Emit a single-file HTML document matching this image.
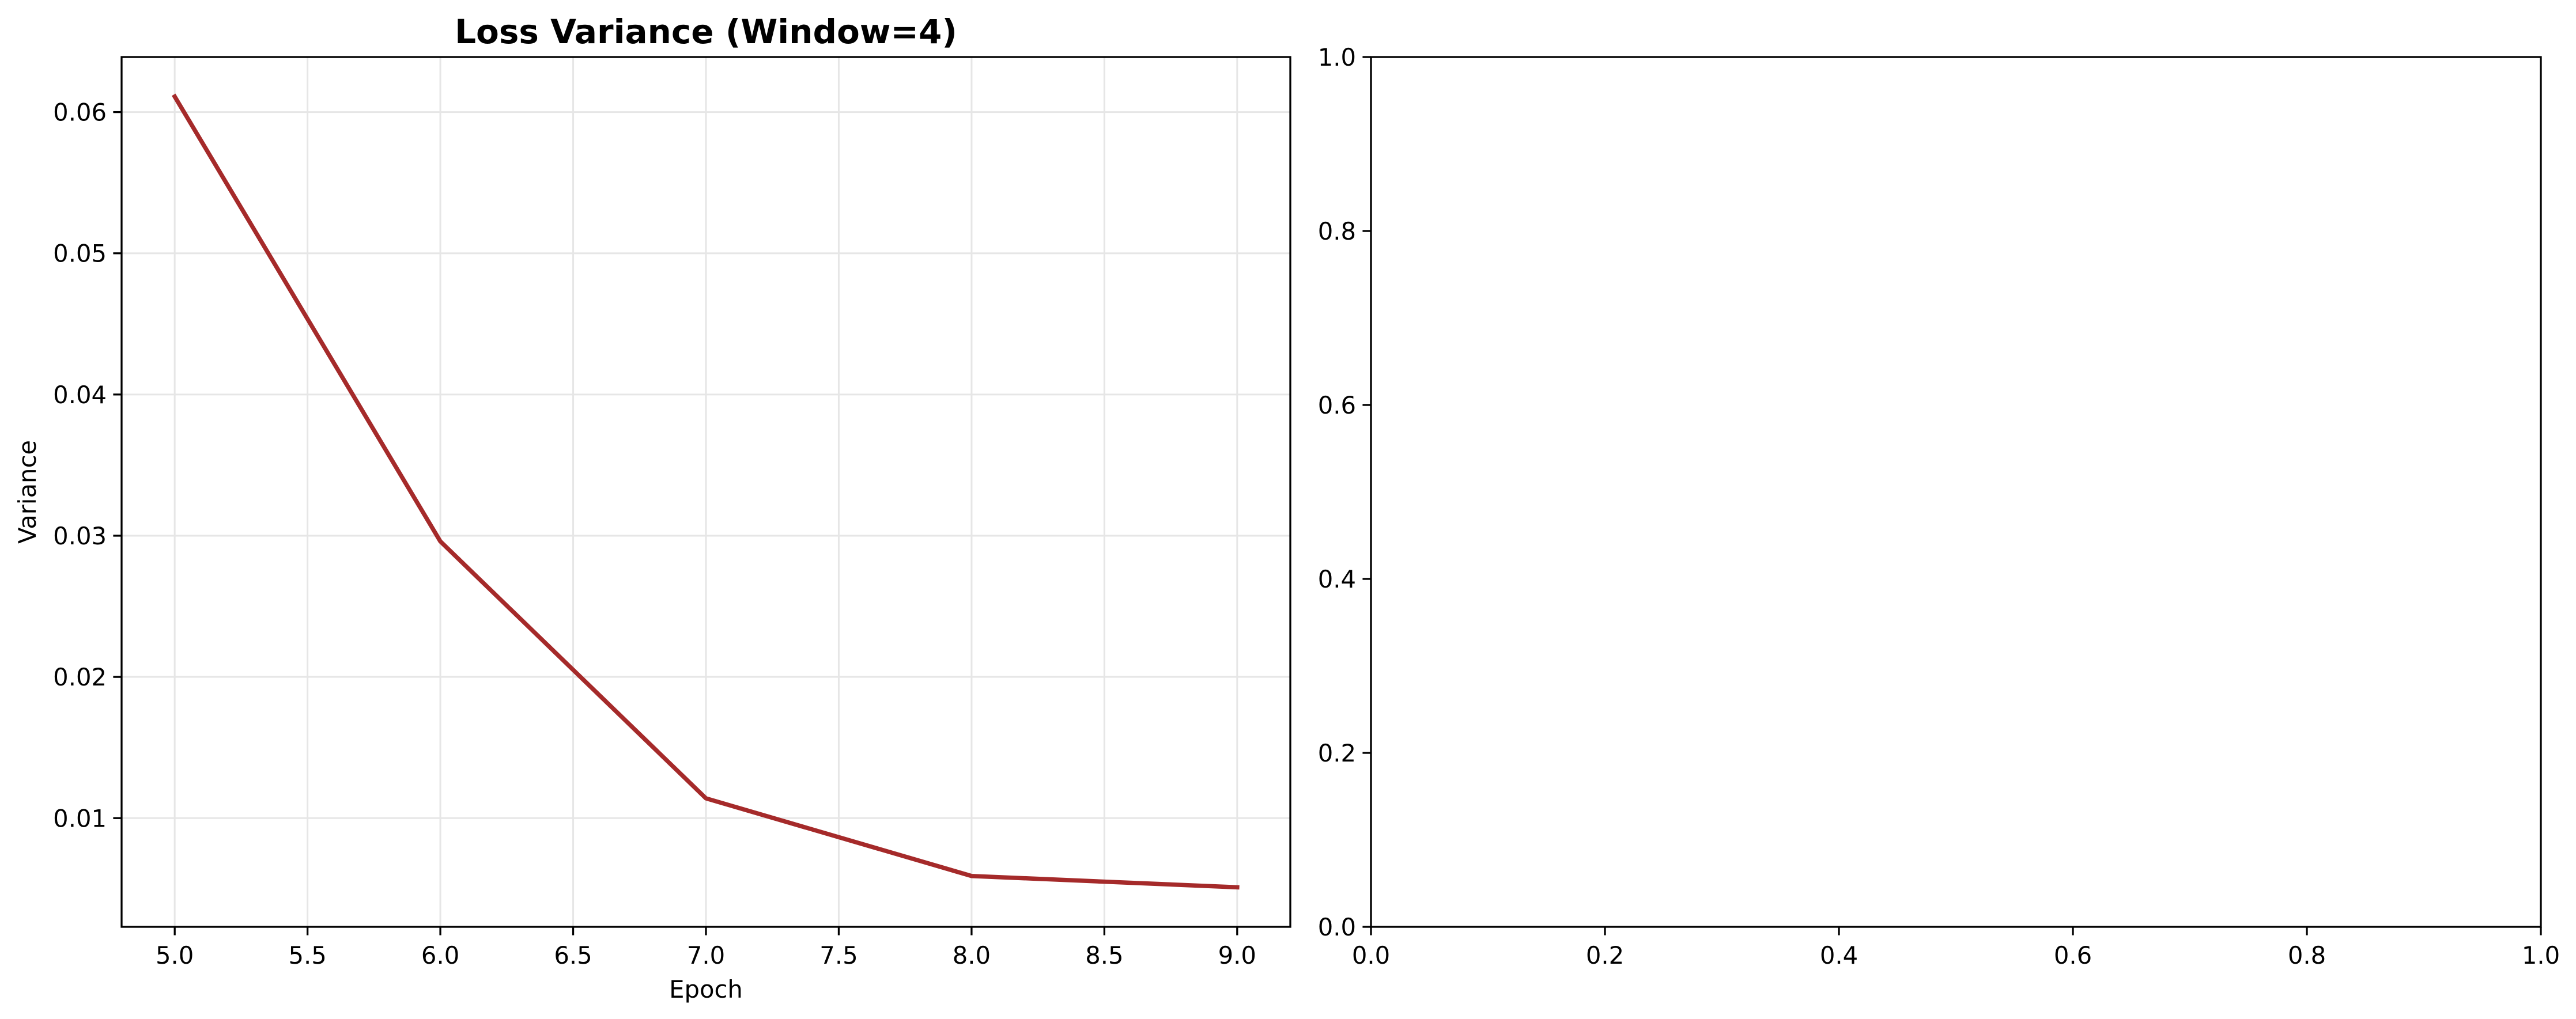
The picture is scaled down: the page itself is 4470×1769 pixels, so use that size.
<!DOCTYPE html>
<html><head><meta charset="utf-8"><style>
html,body{margin:0;padding:0;background:#fff;}
svg{display:block;font-family:"DejaVu Sans","Liberation Sans",sans-serif;}
</style></head><body>
<svg id="fig" width="4470" height="1769" viewBox="0 0 4470 1769" xmlns="http://www.w3.org/2000/svg">
<rect width="4470" height="1769" fill="#fff"/>
<g id="left"></g>
<g id="right"></g>
</svg>
<script>
const epochs = [5, 6, 7, 8, 9];
const variance = [0.0611, 0.0296, 0.0114, 0.0059, 0.0051];
const xTicks = [5.0, 5.5, 6.0, 6.5, 7.0, 7.5, 8.0, 8.5, 9.0];
const yTicks = [0.01, 0.02, 0.03, 0.04, 0.05, 0.06];
const rTicks = [0.0, 0.2, 0.4, 0.6, 0.8, 1.0];

const NS = "http://www.w3.org/2000/svg";
function mk(tag, attrs, parent, text) {
  const e = document.createElementNS(NS, tag);
  for (const k in attrs) e.setAttribute(k, attrs[k]);
  if (text !== undefined) e.textContent = text;
  parent.appendChild(e);
  return e;
}
const L = document.getElementById('left');
const R = document.getElementById('right');

// Left axes geometry
const ax = {x0: 211, x1: 2239, y0: 99, y1: 1609};
const xmin = 4.8, xmax = 9.2;
const ymin = 0.00230, ymax = 0.0639;
const sx = v => ax.x0 + (v - xmin) / (xmax - xmin) * (ax.x1 - ax.x0);
const sy = v => ax.y1 - (v - ymin) / (ymax - ymin) * (ax.y1 - ax.y0);

// grid
xTicks.forEach(t => {
  const g = mk('line', {x1: sx(t), x2: sx(t), y1: ax.y0, y2: ax.y1, stroke: '#e6e6e6', 'stroke-width': 3}, L);
  
  
});
yTicks.forEach(t => {
  const g = mk('line', {x1: ax.x0, x2: ax.x1, y1: sy(t), y2: sy(t), stroke: '#e6e6e6', 'stroke-width': 3}, L);
  
  
});

// line
const pts = epochs.map((e, i) => sx(e) + ',' + sy(variance[i])).join(' ');
const line = mk('polyline', {points: pts, fill: 'none', stroke: '#a52a2a', 'stroke-width': 7.5, 'stroke-linejoin': 'round', 'stroke-linecap': 'square'}, L);



// spines
const sp = mk('rect', {x: ax.x0, y: ax.y0, width: ax.x1 - ax.x0, height: ax.y1 - ax.y0, fill: 'none', stroke: '#000', 'stroke-width': 3.3}, L);



// ticks
xTicks.forEach(t => {
  mk('line', {x1: sx(t), x2: sx(t), y1: ax.y1, y2: ax.y1 + 14.6, stroke: '#000', 'stroke-width': 3.3}, L);
  const tx = mk('text', {x: sx(t), y: ax.y1 + 64, 'font-size': 41.7, 'text-anchor': 'middle'}, L, t.toFixed(1));
  
  
});
yTicks.forEach(t => {
  mk('line', {x1: ax.x0 - 14.6, x2: ax.x0, y1: sy(t), y2: sy(t), stroke: '#000', 'stroke-width': 3.3}, L);
  const tx = mk('text', {x: ax.x0 - 26, y: sy(t) + 15, 'font-size': 41.7, 'text-anchor': 'end'}, L, t.toFixed(2));
  
  
});
const xl = mk('text', {x: (ax.x0 + ax.x1) / 2, y: 1732, 'font-size': 41.7, 'text-anchor': 'middle'}, L, 'Epoch');


const yl = mk('text', {x: 62, y: (ax.y0 + ax.y1) / 2, 'font-size': 41.7, 'text-anchor': 'middle', transform: 'rotate(-90 62 ' + (ax.y0 + ax.y1) / 2 + ')'}, L, 'Variance');


const ti = mk('text', {x: (ax.x0 + ax.x1) / 2, y: 75, 'font-size': 58, 'font-weight': 'bold', 'text-anchor': 'middle'}, L, 'Loss Variance (Window=4)');



// Right axes
const bx = {x0: 2379, x1: 4409, y0: 99, y1: 1609};
const rx = v => bx.x0 + v * (bx.x1 - bx.x0);
const ry = v => bx.y1 - v * (bx.y1 - bx.y0);
const sp2 = mk('rect', {x: bx.x0, y: bx.y0, width: bx.x1 - bx.x0, height: bx.y1 - bx.y0, fill: 'none', stroke: '#000', 'stroke-width': 3.3}, R);


rTicks.forEach(t => {
  mk('line', {x1: rx(t), x2: rx(t), y1: bx.y1, y2: bx.y1 + 14.6, stroke: '#000', 'stroke-width': 3.3}, R);
  const a = mk('text', {x: rx(t), y: bx.y1 + 64, 'font-size': 41.7, 'text-anchor': 'middle'}, R, t.toFixed(1));
  
  
  mk('line', {x1: bx.x0 - 14.6, x2: bx.x0, y1: ry(t), y2: ry(t), stroke: '#000', 'stroke-width': 3.3}, R);
  const b = mk('text', {x: bx.x0 - 26, y: ry(t) + 15, 'font-size': 41.7, 'text-anchor': 'end'}, R, t.toFixed(1));
  
  
});
</script>
</body></html>
